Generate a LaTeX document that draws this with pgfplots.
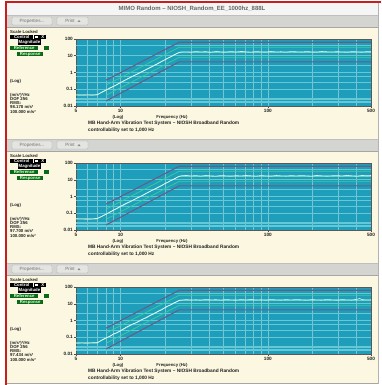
\documentclass[border=0pt]{standalone}
\usepackage{pgfplots}
\pgfplotsset{compat=1.18}
\usepackage{pgfplotstable}
\usepackage{fontspec}
\setmainfont{Liberation Sans}

\definecolor{cream}{RGB}{251,247,224}
\definecolor{toolbar}{RGB}{212,212,208}
\definecolor{btn}{RGB}{228,228,225}
\definecolor{plotbg}{RGB}{30,158,186}
\definecolor{bandc}{RGB}{100,200,214}
\definecolor{abortc}{RGB}{98,96,136}
\definecolor{alarmc}{RGB}{60,205,155}
\definecolor{profc}{RGB}{150,236,190}
\definecolor{measc}{RGB}{228,252,242}
\definecolor{txt}{RGB}{35,35,35}
\definecolor{ctlgreen}{RGB}{10,105,20}
\definecolor{winred}{RGB}{200,30,30}

\newcommand\tb{\fontsize{4.3}{4.8}\selectfont\bfseries}

\pgfplotstableread{
f v
5 0.045
6.9 0.045
25 16
500 16
}\profile
\pgfplotstableread{
f v
8 0.35
25 64
500 64
}\abortup
\pgfplotstableread{
f v
8 0.02
25 4.3
500 4.3
}\abortlo
\pgfplotstableread{
f v
8 0.176
25 32
500 32
}\alarmup
\pgfplotstableread{
f v
8 0.044
25 8
500 8
}\alarmlo

\pgfplotstableread{
f v
5 0.046
5.5 0.045
6 0.046
6.5 0.045
7 0.048
7.5 0.068
8 0.09
8.5 0.12
9 0.15
9.5 0.19
10 0.25
11 0.39
12 0.58
13 0.8
14 1.12
15 1.5
16 2.0
17 2.6
18 3.4
19 4.5
20 5.7
21 7.2
22 8.8
23 10.8
24 13.2
25 15.5
26 16.8
28 17.2
30 16.5
32.5 17.8
35 16.9
38 17.5
41 16.2
44.5 17.9
48 17.0
52 16.6
56 17.7
61 16.8
66 18.1
71 17.1
77 16.4
83 17.6
90 17.0
97 16.7
105 17.9
114 16.9
123 17.3
133 16.5
144 17.8
156 17.2
169 16.8
183 17.6
198 17.0
214 16.6
232 17.9
251 17.2
272 16.9
294 17.4
318 17.0
344 16.6
372 17.5
403 17.1
436 16.7
472 17.6
500 17.2
}\measA

\pgfplotstableread{
f v
5 0.047
5.5 0.046
6 0.045
6.5 0.046
7 0.05
7.5 0.066
8 0.088
8.5 0.118
9 0.155
9.5 0.2
10 0.26
11 0.4
12 0.56
13 0.82
14 1.1
15 1.55
16 2.1
17 2.7
18 3.5
19 4.4
20 5.9
21 7.0
22 9.1
23 10.5
24 13.5
25 15.8
26 17.4
28 18.0
30 16.9
32.5 17.6
35 16.5
38 17.9
41 17.0
44.5 16.4
48 17.8
52 17.1
56 16.6
61 17.5
66 16.9
71 18.0
77 17.2
83 16.5
90 17.7
97 17.0
105 16.6
114 17.9
123 17.1
133 16.8
144 17.6
156 16.9
169 17.8
183 17.0
198 16.4
214 18.1
232 17.2
251 16.7
294 17.8
318 16.9
344 18.2
372 17.1
403 16.5
436 18.0
472 17.3
500 17.9
}\measB

\pgfplotstableread{
f v
5 0.045
5.5 0.046
6 0.045
6.5 0.047
7 0.047
7.5 0.07
8 0.092
8.5 0.115
9 0.16
9.5 0.185
10 0.24
11 0.41
12 0.6
13 0.78
14 1.15
15 1.45
16 2.05
17 2.55
18 3.5
19 4.3
20 5.8
21 7.3
22 8.6
23 11.0
24 12.9
25 15.6
26 16.6
28 17.6
30 16.8
32.5 17.3
35 16.6
38 17.8
41 16.9
44.5 17.4
48 16.5
52 17.7
56 17.0
61 16.7
66 17.6
71 16.9
77 17.9
83 16.8
90 17.3
97 16.6
105 17.7
114 17.0
123 16.8
133 17.5
144 16.9
156 17.8
169 17.1
183 16.6
198 17.6
214 17.0
232 16.8
251 17.7
272 17.1
294 16.7
318 17.5
344 17.0
372 16.8
403 18.6
420 20.5
436 17.4
472 16.9
500 17.3
}\measC

\pgfplotsset{
 mipanel/.style={
  scale only axis, width=295pt, height=67pt, anchor=north west,
  xmin=5, xmax=500, ymin=0.01, ymax=100,
  axis background/.style={fill=plotbg},
  xtick={5,10,100,500}, xticklabels={5,10,100,500},
  ytick={0.01,0.1,1,10,100}, yticklabels={0.01,0.1,1,10,100},
  minor xtick={6,7,8,9,20,30,40,50,60,70,80,90,200,300,400},
  xmajorgrids, xminorgrids,
  major grid style={white, opacity=0.4, line width=0.5pt},
  minor grid style={white, opacity=0.4, line width=0.5pt},
  tick align=outside, tick pos=left,
  major tick length=2pt, minor tick length=0pt,
  tick style={black!70, line width=0.5pt},
  axis line style={draw=black!65, line width=0.6pt},
  ticklabel style={font=\fontsize{4.7}{5}\selectfont\bfseries, text=txt, inner sep=1pt},
 }
}

\newcommand\panel[3]{%
 \pgfmathsetmacro\PT{#1}%
 \fill[toolbar] (7,{-(\PT-24)}) rectangle (378,{-(\PT-12)});
 \draw[black!35, line width=0.5pt] (7,{-(\PT-12)}) -- (378,{-(\PT-12)});
 \draw[black!25, line width=0.4pt] (7,{-(\PT-24)}) -- (378,{-(\PT-24)});
 \draw[fill=btn, draw=black!30, line width=0.4pt, rounded corners=0.8pt] (12,{-(\PT-22)}) rectangle (52,{-(\PT-14)});
 \node[font=\fontsize{4.6}{5}\selectfont, text=black!55] at (32,{-(\PT-18)}) {Properties...};
 \draw[fill=btn, draw=black!30, line width=0.4pt, rounded corners=0.8pt] (57,{-(\PT-22)}) rectangle (88,{-(\PT-14)});
 \node[font=\fontsize{4.6}{5}\selectfont, text=black!55] at (70,{-(\PT-18)}) {Print};
 \fill[black!45] (77.5,{-(\PT-17)}) -- (80.5,{-(\PT-17)}) -- (79,{-(\PT-19)}) -- cycle;
 \node[anchor=west, font=\tb, text=txt, inner sep=0pt] at (10,{-(\PT-7)}) {Scale Locked};
 \node[anchor=west, fill=black, text=white, font=\tb, inner sep=0.5pt, minimum width=23pt, minimum height=4pt] at (10,{-(\PT-2)}) {Control};
 \draw[fill=white, draw=black, line width=0.3pt] (34,{-(\PT-0.5)}) rectangle (38,{-(\PT-3.5)});
 \node[anchor=west, fill=black, text=white, font=\tb, inner sep=0.5pt, minimum width=7pt, minimum height=4pt] at (39,{-(\PT-2)}) {X};
 \node[anchor=west, fill=black, text=white, font=\tb, inner sep=0.5pt, minimum width=22pt, minimum height=4pt] at (18,{-(\PT+3)}) {Magnitude};
 \node[anchor=west, fill=ctlgreen, text=white!85!green, font=\tb, inner sep=0.5pt, minimum width=28pt, minimum height=4.5pt] at (10,{-(\PT+9)}) {Reference};
 \fill[ctlgreen] (44,{-(\PT+7)}) rectangle (49,{-(\PT+11)});
 \node[anchor=west, fill=ctlgreen, text=white!85!green, font=\tb, inner sep=0.5pt, minimum width=26pt, minimum height=4.5pt] at (17,{-(\PT+15)}) {Response};
 \node[anchor=west, font=\tb, text=txt, inner sep=0pt] at (10,{-(\PT+42)}) {(Log)};
 \node[anchor=west, font=\tb, text=txt, inner sep=0pt] at (10,{-(\PT+56)}) {(m/s²)²/Hz};
 \node[anchor=west, font=\tb, text=txt, inner sep=0pt] at (10,{-(\PT+60)}) {DOF 256};
 \node[anchor=west, font=\tb, text=txt, inner sep=0pt] at (10,{-(\PT+64)}) {RMS:};
 \node[anchor=west, font=\tb, text=txt, inner sep=0pt] at (10,{-(\PT+68)}) {#3 m/s²};
 \node[anchor=west, font=\tb, text=txt, inner sep=0pt] at (10,{-(\PT+72.5)}) {100.000 m/s²};
 \pgfmathsetmacro\PY{-\PT}%
 \begin{loglogaxis}[mipanel, at={(76pt,\PY pt)}]
  \addplot[bandc, line width=1.4pt, no marks] coordinates {(5,0.017) (500,0.017)};
  \addplot[bandc, line width=1.4pt, no marks] coordinates {(5,0.026) (500,0.026)};
  \addplot[bandc, line width=1.4pt, no marks] coordinates {(5,0.1) (500,0.1)};
  \addplot[bandc, line width=1.4pt, no marks] coordinates {(5,0.25) (500,0.25)};
  \addplot[bandc, line width=1.4pt, no marks] coordinates {(5,0.6) (500,0.6)};
  \addplot[bandc, line width=1.4pt, no marks] coordinates {(5,1) (500,1)};
  \addplot[bandc, line width=1.4pt, no marks] coordinates {(5,2.7) (500,2.7)};
  \addplot[bandc, line width=1.4pt, no marks] coordinates {(5,10) (500,10)};
  \addplot[bandc, line width=1.4pt, no marks] coordinates {(5,42) (500,42)};
  \addplot[abortc, line width=1.1pt, no marks] table[x=f,y=v] {\abortup};
  \addplot[abortc, line width=1.1pt, no marks] table[x=f,y=v] {\abortlo};
  \addplot[alarmc, line width=0.7pt, no marks] table[x=f,y=v] {\alarmup};
  \addplot[alarmc, line width=0.7pt, no marks] table[x=f,y=v] {\alarmlo};
  \addplot[profc, line width=0.7pt, no marks] table[x=f,y=v] {\profile};
  \addplot[measc, line width=0.6pt, no marks, line join=round] table[x=f,y=v] {#2};
 \end{loglogaxis}
 \node[font=\tb, text=txt, inner sep=0pt] at (118,{-(\PT+78)}) {(Log)};
 \node[font=\tb, text=txt, inner sep=0pt] at (172,{-(\PT+78)}) {Frequency (Hz)};
 \node[anchor=west, font=\fontsize{4.8}{5}\selectfont\bfseries, text=txt, inner sep=0pt] at (88,{-(\PT+84.5)}) {MB Hand-Arm Vibration Test System – NIOSH Broadband Random};
 \node[anchor=west, font=\fontsize{4.8}{5}\selectfont\bfseries, text=txt, inner sep=0pt] at (88,{-(\PT+91)}) {controllability set to 1,000 Hz};
}

\begin{document}
\begin{tikzpicture}[x=1pt,y=1pt]
 \useasboundingbox (0,0) rectangle (381,-385);
 \fill[white] (0,0) rectangle (381,-385);
 \fill[cream] (7,-3) rectangle (379,-383);
 \fill[white!96!black] (7,-3) rectangle (379,-15);
 \node[font=\fontsize{6}{6.5}\selectfont\bfseries, text=black!60] at (192,-9) {MIMO Random – NIOSH\_Random\_EE\_1000hz\_888L};
 \panel{39}{\measA}{98.178}
 \panel{163}{\measB}{97.700}
 \panel{287}{\measC}{97.434}
 \draw[black!35, line width=0.8pt] (7,-383.5) -- (379,-383.5);
 \draw[black!30, line width=0.6pt] (378.5,-3) -- (378.5,-383.5);
 \draw[winred, line width=1.6pt] (5,-2) -- (381,-2);
 \draw[winred, line width=2.2pt] (6,-2) -- (6,-385);
\end{tikzpicture}
\end{document}
